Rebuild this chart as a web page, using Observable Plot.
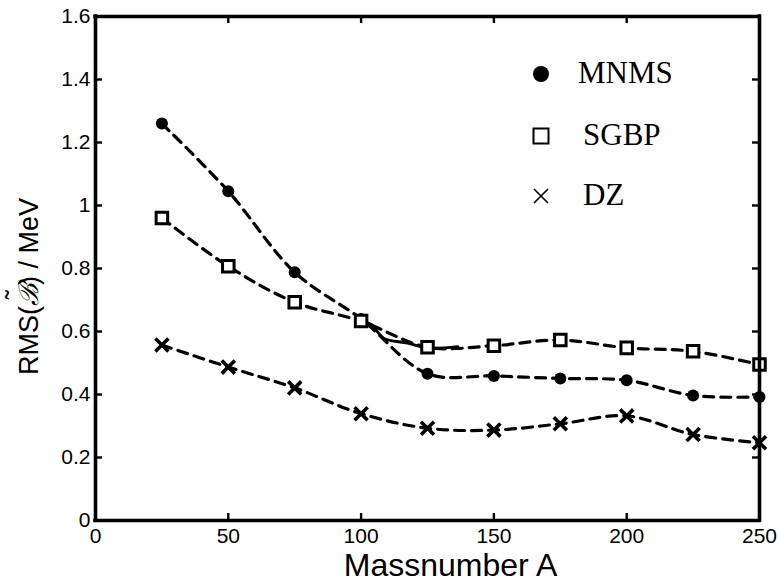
<!DOCTYPE html>
<html>
<head>
<meta charset="utf-8">
<script src="https://cdn.jsdelivr.net/npm/d3@7"></script>
<script src="https://cdn.jsdelivr.net/npm/@observablehq/plot@0.6"></script>
<style>
  html, body { margin: 0; padding: 0; background: #fff; }
  #wrap { position: relative; width: 780px; height: 581px; overflow: hidden; }
  .leg { position: absolute; font-family: "Liberation Serif", "Times New Roman", serif; font-size: 31px; color: #000; line-height: 1; }
  .legsym { position: absolute; }
</style>
</head>
<body>
<div id="wrap"></div>
<script>
// ---- data ----
const massNumbers = [25, 50, 75, 100, 125, 150, 175, 200, 225, 250];
const mnms = [1.26, 1.045, 0.788, 0.64, 0.466, 0.459, 0.451, 0.445, 0.397, 0.392];
const sgbp = [0.96, 0.807, 0.693, 0.633, 0.55, 0.555, 0.573, 0.548, 0.537, 0.495];
const dz   = [0.557, 0.487, 0.421, 0.339, 0.293, 0.287, 0.307, 0.332, 0.273, 0.247];
// stray solid curve segment near A = 100..135
const solidX = [100, 104.3, 106.2, 108.6, 117.5, 125, 136.4];
const solidY = [0.633, 0.62, 0.599, 0.578, 0.563, 0.548, 0.552];

const seriesNames = ["MNMS", "SGBP", "DZ"];
const xTicks = [0, 50, 100, 150, 200, 250];
const yTicks = [0, 0.2, 0.4, 0.6, 0.8, 1, 1.2, 1.4, 1.6];
const xLabel = "Massnumber A";
const yLabelParts = ["RMS(", "\u212C", "\u02DC", ") / MeV"];

const toRows = (ys) => massNumbers.map((a, i) => ({a, v: ys[i]}));
const rowsM = toRows(mnms), rowsS = toRows(sgbp), rowsD = toRows(dz);
const solidRows = solidX.map((a, i) => ({a, v: solidY[i]}));

const W = 780, H = 581;
const mL = 95, mR = 21, mT = 16, mB = 61;
const innerW = W - mL - mR, innerH = H - mT - mB;
const xDom = [0, 250], yDom = [0, 1.6];
const tickPx = 7;
const tickDX = tickPx / innerW * (xDom[1] - xDom[0]);
const tickDY = tickPx / innerH * (yDom[1] - yDom[0]);

const lineOpts = {x: "a", y: "v", stroke: "#000", strokeWidth: 3.2, strokeDasharray: "10,7", curve: "catmull-rom"};
const tickStyle = {stroke: "#000", strokeWidth: 2.4};
const frameStyle = {stroke: "#000", strokeWidth: 3.6, strokeLinecap: "square"};

const chart = Plot.plot({
  width: W, height: H,
  marginLeft: mL, marginRight: mR, marginTop: mT, marginBottom: mB,
  x: {domain: xDom},
  y: {domain: yDom},
  style: {fontFamily: "'Liberation Sans', Arial, sans-serif", fontSize: "21px", color: "#000", background: "#fff", overflow: "visible"},
  marks: [
    // tick labels
    Plot.axisX(xTicks, {tickSize: 0, tickPadding: 8, label: null, fontSize: 21, tickFormat: d => String(d)}),
    Plot.axisY(yTicks, {tickSize: 0, tickPadding: 5, label: null, fontSize: 21, tickFormat: d => String(d)}),
    // inward ticks on all four sides
    Plot.ruleX(xTicks, {x: d => d, y1: yDom[0], y2: yDom[0] + tickDY, ...tickStyle}),
    Plot.ruleX(xTicks, {x: d => d, y1: yDom[1] - tickDY, y2: yDom[1], ...tickStyle}),
    Plot.ruleY(yTicks, {y: d => d, x1: xDom[0], x2: xDom[0] + tickDX, ...tickStyle}),
    Plot.ruleY(yTicks, {y: d => d, x1: xDom[1] - tickDX, x2: xDom[1], ...tickStyle}),
    // series lines
    Plot.line(rowsM, lineOpts),
    Plot.line(rowsS, lineOpts),
    Plot.line(rowsD, lineOpts),
    Plot.line(solidRows, {x: "a", y: "v", stroke: "#000", strokeWidth: 2.8, curve: "catmull-rom"}),
    // markers
    Plot.dot(rowsM, {x: "a", y: "v", r: 6, fill: "#000", stroke: "none"}),
    Plot.dot(rowsS, {x: "a", y: "v", r: 6.5, symbol: "square", fill: "#fff", stroke: "#000", strokeWidth: 3}),
    Plot.dot(rowsD, {x: "a", y: "v", r: 6, symbol: "times", stroke: "#000", strokeWidth: 3.6}),
    // box
    Plot.ruleX(xDom, {x: d => d, ...frameStyle}),
    Plot.ruleY(yDom, {y: d => d, ...frameStyle}),
    // axis titles
    Plot.text([xLabel], {frameAnchor: "bottom", dx: 23, dy: 55, lineAnchor: "bottom", fontSize: 32, fill: "#000"}),
    Plot.text([yLabelParts.join("")], {frameAnchor: "left", textAnchor: "middle", rotate: -90, dx: -66, dy: 18, fontSize: 27, fill: "#000"})
  ]
});

// rebuild the y label with a tilde over the script B
d3.select(chart).selectAll("text")
  .filter(function () { return this.textContent === yLabelParts.join(""); })
  .each(function () {
    const t = d3.select(this);
    t.text(null);
    t.append("tspan").text(yLabelParts[0]);
    t.append("tspan").attr("font-family", "'DejaVu Serif', serif").attr("font-style", "italic").text(yLabelParts[1]);
    t.append("tspan").attr("dx", "-0.6em").attr("dy", "-0.5em").text(yLabelParts[2]);
    t.append("tspan").attr("dx", "0.2em").attr("dy", "0.5em").text(yLabelParts[3]);
  });

const wrap = document.getElementById("wrap");
wrap.appendChild(chart);

// legend (overlay)
const legendSymbols = [
  `<svg width="24" height="24"><circle cx="12" cy="12" r="8" fill="#000"/></svg>`,
  `<svg width="24" height="24"><rect x="4.5" y="4.5" width="15" height="15" fill="#fff" stroke="#000" stroke-width="2"/></svg>`,
  `<svg width="24" height="24"><path d="M5,5L19,19M19,5L5,19" stroke="#000" stroke-width="1.6"/></svg>`
];
const legendCY = [74, 136, 196];
const legendTX = [578, 583, 583];
seriesNames.forEach((name, i) => {
  const s = document.createElement("div");
  s.className = "legsym";
  s.style.left = (541 - 12) + "px";
  s.style.top = (legendCY[i] - 12) + "px";
  s.innerHTML = legendSymbols[i];
  wrap.appendChild(s);
  const t = document.createElement("div");
  t.className = "leg";
  t.textContent = name;
  t.style.left = legendTX[i] + "px";
  t.style.top = (legendCY[i] - 17) + "px";
  wrap.appendChild(t);
});
</script>
</body>
</html>
